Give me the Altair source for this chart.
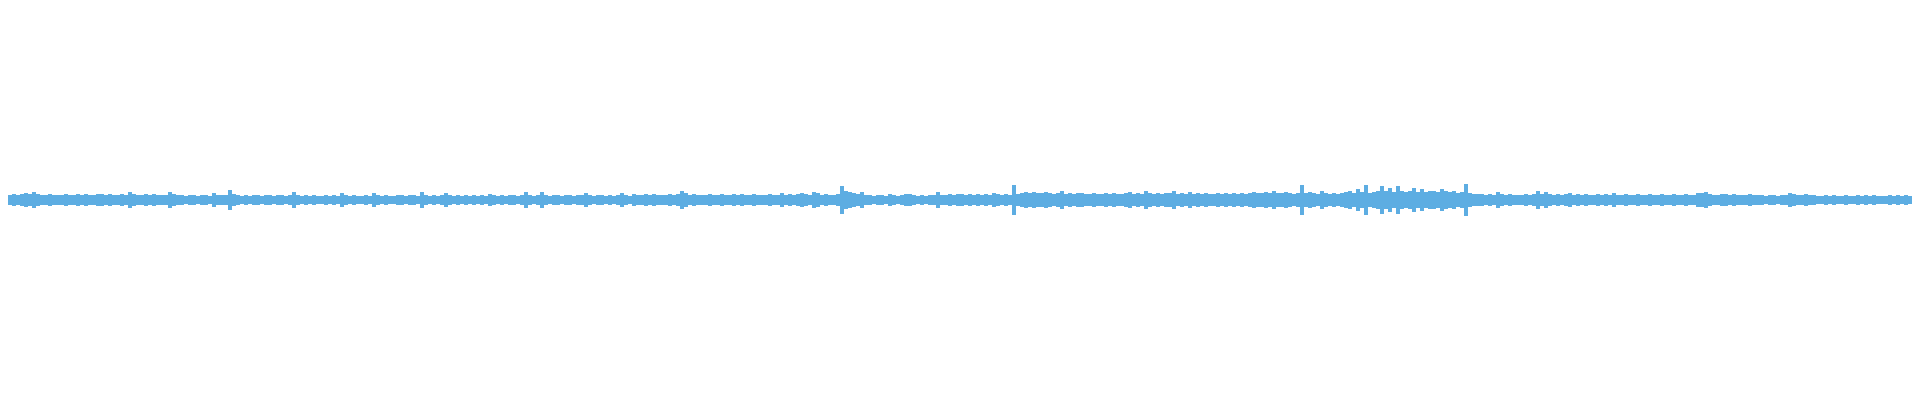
import altair as alt
import pandas as pd

# Waveform peak amplitude per 4-sample bin (symmetric around zero)
bin_width = 4
amplitude = [
    5,6,5,6,5, 6,7,6,8,6, 5,5,6,5,5, 5,6,5,5,6, 5,6,5,5,6, 6,5,6,5,5, 6,5,8,6,5, 5,6,5,6,5,
    5,5,8,6,5, 5,4,5,5,4, 5,5,4,7,5, 5,5,10,6,5, 4,5,4,5,5, 4,5,5,4,5, 5,4,5,8,5, 4,5,4,5,4,
    4,5,4,5,4, 7,5,4,5,4, 4,5,4,7,5, 4,5,4,4,5, 5,4,5,5,4, 8,5,4,5,4, 5,7,5,4,5, 4,5,4,5,4,
    5,4,6,5,4, 5,4,5,5,4, 5,8,5,4,5, 8,5,4,5,5, 4,5,5,4,5, 5,7,5,4,5, 5,4,5,4,5, 7,5,4,6,5,
    5,6,5,6,5, 5,5,6,5,6, 9,7,5,6,5, 5,5,6,5,5, 6,5,5,6,5, 6,5,5,6,5, 5,5,6,5,5, 7,5,6,5,6,
    7,6,5,8,7, 5,6,5,5,6, 14,9,8,7,6, 8,5,5,4,5, 5,4,6,5,4, 5,6,6,5,4, 5,4,5,5,8, 5,5,6,5,6,
    6,5,6,5,6, 5,6,5,7,6, 5,6,5,15,6, 7,8,7,8,7, 7,8,7,6,7, 9,6,7,6,7, 7,6,6,7,6, 6,7,6,7,6,
    6,7,8,6,7, 6,9,7,6,7, 6,7,7,9,6, 7,6,8,6,7, 6,7,6,6,7, 6,7,6,7,6, 7,6,7,8,7, 7,8,7,9,7,
    7,8,7,6,7, 15,7,8,7,6, 9,7,6,7,6, 7,8,9,7,11, 8,15,7,8,9, 14,9,12,8,14, 9,8,9,12,8, 11,8,9,9,8,
    11,9,8,9,7, 8,16,7,6,6, 6,5,6,5,8, 6,5,6,5,5, 5,6,5,6,9, 6,8,6,5,6, 5,6,7,5,6, 5,6,5,5,6,
    5,6,5,7,5, 5,6,5,5,6, 5,5,6,5,5, 6,5,5,6,5, 5,6,5,5,7, 7,8,6,5,5, 6,6,5,6,5, 5,5,6,5,5,
    5,4,5,5,4, 5,5,7,6,5, 5,6,5,5,4, 4,5,4,5,4, 4,5,4,4,5, 4,5,4,5,4, 4,4,5,4,5, 4,5,4,4,5,
]

# one extra closing point so the last step reaches the right edge
positions = [i * bin_width for i in range(len(amplitude) + 1)]
values = amplitude + [amplitude[-1]]

df = pd.DataFrame({
    "position": positions,
    "low": [-a for a in values],
    "high": values,
})

chart = (
    alt.Chart(df)
    .mark_area(color="#5dade2", interpolate="step-after", opacity=1)
    .encode(
        x=alt.X("position:Q", scale=alt.Scale(domain=[0, len(amplitude) * bin_width], nice=False, zero=False), axis=None),
        y=alt.Y("low:Q", scale=alt.Scale(domain=[-192, 192], nice=False), axis=None),
        y2="high:Q",
    )
    .properties(
        width=1920,
        height=384,
        padding={"left": -8, "right": -8, "top": 0, "bottom": 0},
    )
    .configure_view(stroke=None)
)

chart.save("out.html", embed_options={"renderer": "svg", "actions": False})
